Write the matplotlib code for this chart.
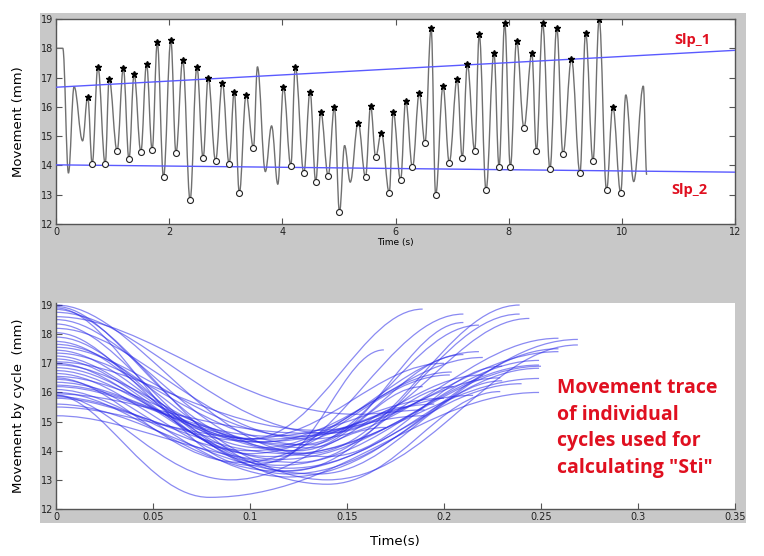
import matplotlib
matplotlib.use("Agg")
import matplotlib.pyplot as plt
from matplotlib.path import Path
from matplotlib.patches import PathPatch, Rectangle

# ---------------- data: top panel (extrema of the movement trace) ----------------
start_t = [0.0, 0.0, 0.12]
start_v = [14.1, 18.0, 18.0]

ext_t = [0.12, 0.22, 0.32, 0.47, 0.56, 0.64, 0.74, 0.87, 0.94, 1.08, 1.19, 1.29, 1.38, 1.50,
         1.60, 1.70, 1.79, 1.90, 2.03, 2.12, 2.24, 2.37, 2.49, 2.60, 2.69, 2.82, 2.94, 3.06,
         3.15, 3.24, 3.36, 3.49, 3.56, 3.70, 3.81, 3.92, 4.02, 4.15, 4.23, 4.38, 4.49, 4.59,
         4.68, 4.81, 4.92, 5.01, 5.10, 5.20, 5.34, 5.47, 5.56, 5.65, 5.75, 5.89, 5.96, 6.09,
         6.18, 6.30, 6.42, 6.52, 6.63, 6.71, 6.84, 6.95, 7.09, 7.18, 7.27, 7.40, 7.48, 7.60,
         7.74, 7.83, 7.93, 8.03, 8.14, 8.27, 8.41, 8.49, 8.60, 8.73, 8.85, 8.96, 9.11, 9.26,
         9.36, 9.49, 9.60, 9.73, 9.84, 9.98, 10.07, 10.21, 10.38, 10.44]
ext_v = [18.0, 13.74, 16.69, 14.84, 16.35, 14.05, 17.37, 14.05, 16.95, 14.5, 17.32, 14.21, 17.12, 14.47,
         17.46, 14.53, 18.2, 13.6, 18.28, 14.42, 17.6, 12.82, 17.37, 14.25, 17.0, 14.16, 16.83, 14.05,
         16.52, 13.05, 16.41, 14.61, 17.37, 13.79, 15.35, 13.36, 16.67, 13.99, 17.37, 13.75, 16.52, 13.45,
         15.82, 13.65, 15.99, 12.4, 14.68, 13.43, 15.46, 13.6, 16.03, 14.3, 15.12, 13.07, 15.82, 13.5,
         16.21, 13.93, 16.46, 14.76, 18.68, 12.99, 16.71, 14.1, 16.95, 14.25, 17.46, 14.5, 18.48, 13.16,
         17.85, 13.96, 18.85, 13.94, 18.26, 15.29, 17.83, 14.49, 18.85, 13.88, 18.7, 14.39, 17.63, 13.75,
         18.53, 14.16, 18.99, 13.16, 16.01, 13.07, 16.41, 13.45, 16.71, 13.68]
ext_mark = ['', '', '', '', 'p', 't', 'p', 't', 'p', 't', 'p', 't', 'p', 't',
            'p', 't', 'p', 't', 'p', 't', 'p', 't', 'p', 't', 'p', 't', 'p', 't',
            'p', 't', 'p', 't', '', '', '', '', 'p', 't', 'p', 't', 'p', 't',
            'p', 't', 'p', 't', '', '', 'p', 't', 'p', 't', 'p', 't', 'p', 't',
            'p', 't', 'p', 't', 'p', 't', 'p', 't', 'p', 't', 'p', 't', 'p', 't',
            'p', 't', 'p', 't', 'p', 't', 'p', 't', 'p', 't', 'p', 't', 'p', 't',
            'p', 't', 'p', 't', 'p', 't', '', '', '', '']

slp1_t = [0.0, 12.0]
slp1_v = [16.67, 17.93]
slp2_t = [0.0, 12.0]
slp2_v = [14.02, 13.77]

# ---------------- data: bottom panel (individual cycles) ----------------
cyc_start = [19.0, 18.95, 18.9, 18.85, 18.75, 18.6, 18.5, 18.35, 18.2, 18.05, 17.9, 17.75, 17.65, 17.55,
             17.45, 17.35, 17.25, 17.15, 17.05, 17.0, 16.95, 16.85, 16.75, 16.65, 16.55, 16.5, 16.45,
             16.35, 16.25, 16.2, 16.1, 16.0, 15.95, 15.9, 15.85, 15.8, 15.6, 15.5, 15.2, 15.9]
cyc_tmin = [0.13, 0.10, 0.10, 0.12, 0.14, 0.155, 0.12, 0.11, 0.13, 0.10, 0.12, 0.105, 0.14, 0.125,
            0.115, 0.13, 0.10, 0.12, 0.135, 0.11, 0.125, 0.14, 0.105, 0.115, 0.13, 0.095, 0.12,
            0.11, 0.14, 0.125, 0.10, 0.115, 0.13, 0.09, 0.12, 0.105, 0.135, 0.11, 0.125, 0.079]
cyc_min = [13.9, 14.4, 13.5, 13.3, 14.6, 15.25, 14.0, 13.6, 14.4, 13.9, 13.2, 14.1, 13.0, 14.5,
           13.7, 14.2, 14.4, 13.4, 14.7, 13.8, 14.0, 12.85, 14.3, 13.5, 14.1, 13.6, 13.1,
           14.5, 13.8, 14.2, 14.0, 13.3, 14.6, 13.0, 13.9, 14.3, 13.2, 14.4, 13.6, 12.4]
cyc_tend = [0.239, 0.189, 0.21, 0.239, 0.244, 0.19, 0.218, 0.169, 0.259, 0.218, 0.269, 0.204, 0.269, 0.259,
            0.249, 0.21, 0.20, 0.249, 0.229, 0.249, 0.189, 0.229, 0.22, 0.249, 0.18, 0.203, 0.259,
            0.20, 0.23, 0.21, 0.195, 0.24, 0.22, 0.17, 0.25, 0.19, 0.23, 0.215, 0.205, 0.249]
cyc_end = [19.0, 18.86, 18.69, 18.69, 18.54, 15.4, 18.31, 17.46, 17.86, 17.4, 17.82, 16.7, 17.63, 17.4,
           16.94, 18.4, 17.0, 16.83, 16.5, 16.48, 16.2, 16.03, 17.2, 17.1, 15.5, 16.6, 17.5,
           15.8, 16.9, 17.3, 15.6, 16.3, 16.6, 14.8, 16.9, 15.2, 16.4, 15.9, 16.2, 16.0]

top_xticks = [0, 2, 4, 6, 8, 10, 12]
yticks = [12, 13, 14, 15, 16, 17, 18, 19]
bot_xticks = [0, 0.05, 0.1, 0.15, 0.2, 0.25, 0.3, 0.35]
bot_xticklabels = ['0', '0.05', '0.1', '0.15', '0.2', '0.25', '0.3', '0.35']

# ---------------- helpers ----------------
def smooth_verts(ts, vs, ks):
    verts, codes = [], []
    for i in range(len(ts) - 1):
        dt = ts[i + 1] - ts[i]
        k0, k1 = ks[i]
        verts += [(ts[i] + k0 * dt, vs[i]), (ts[i + 1] - k1 * dt, vs[i + 1]), (ts[i + 1], vs[i + 1])]
        codes += [Path.CURVE4] * 3
    return verts, codes

W, H = 764, 556
fig = plt.figure(figsize=(W / 100, H / 100), dpi=100)
fig.patch.set_facecolor('white')
bg = Rectangle((40 / W, 1 - 523 / H), (746 - 40) / W, (523 - 13) / H,
               transform=fig.transFigure, facecolor='#c8c8c8', edgecolor='none', zorder=-10)
fig.patches.append(bg)

spine_col = '#555555'

# ---------------- top panel ----------------
ax1 = fig.add_axes([56 / W, 1 - 224 / H, (735 - 56) / W, (224 - 19) / H])
ax1.set_zorder(1)
ax1.set_facecolor('white')
ax1.set_xlim(0, 12)
ax1.set_ylim(12, 19)

verts = [(start_t[0], start_v[0]), (start_t[1], start_v[1]), (start_t[2], start_v[2])]
codes = [Path.MOVETO, Path.LINETO, Path.LINETO]
v2, c2 = smooth_verts(ext_t, ext_v, [(0.38, 0.38)] * (len(ext_t) - 1))
verts += v2
codes += c2
ax1.add_patch(PathPatch(Path(verts, codes), fill=False, edgecolor='#707070', lw=1.0, zorder=2))

ax1.plot(slp1_t, slp1_v, color='#5a5aff', lw=1.0, zorder=3)
ax1.plot(slp2_t, slp2_v, color='#5a5aff', lw=1.0, zorder=3)

pk_t = [t for t, m in zip(ext_t, ext_mark) if m == 'p']
pk_v = [v for v, m in zip(ext_v, ext_mark) if m == 'p']
tr_t = [t for t, m in zip(ext_t, ext_mark) if m == 't']
tr_v = [v for v, m in zip(ext_v, ext_mark) if m == 't']
ax1.plot(pk_t, pk_v, linestyle='none', marker='*', ms=5, color='black', zorder=4)
ax1.plot(tr_t, tr_v, linestyle='none', marker='o', ms=4.3, mfc='white', mec='#222222', mew=0.8, zorder=4)

ax1.set_xticks(top_xticks)
ax1.set_yticks(yticks)
ax1.tick_params(direction='in', length=4, width=0.8, color=spine_col, top=True, right=True,
                labelsize=7, labelcolor='#222222', pad=2)
for s in ax1.spines.values():
    s.set_color(spine_col)
    s.set_linewidth(1.0)
ax1.set_xlabel('Time (s)', fontsize=6.5, labelpad=1)
ax1.set_ylabel('Movement (mm)', fontsize=9.5)
ax1.yaxis.set_label_coords(-0.045, 0.5)

ax1.text(10.93, 18.28, 'Slp_1', color='#e01020', fontsize=10.5, fontweight='bold',
         family='Open Sans', ha='left', va='center', zorder=5)
ax1.text(10.88, 13.16, 'Slp_2', color='#e01020', fontsize=10.5, fontweight='bold',
         family='Open Sans', ha='left', va='center', zorder=5)

# ---------------- bottom panel ----------------
ax2 = fig.add_axes([56 / W, 1 - 509 / H, (735 - 56) / W, (509 - 303) / H])
ax2.set_zorder(1)
ax2.set_facecolor('white')
ax2.set_xlim(0, 0.35)
ax2.set_ylim(12, 19.07)

for s0, tm, m, te, e in zip(cyc_start, cyc_tmin, cyc_min, cyc_tend, cyc_end):
    vv, cc = smooth_verts([0.0, tm, te], [s0, m, e], [(0.3, 0.4), (0.4, 0.35)])
    path = Path([(0.0, s0)] + vv, [Path.MOVETO] + cc)
    ax2.add_patch(PathPatch(path, fill=False, edgecolor='#2a2ae8', alpha=0.55, lw=0.9, zorder=2))

ax2.set_xticks(bot_xticks)
ax2.set_xticklabels(bot_xticklabels)
ax2.set_yticks(yticks)
ax2.tick_params(direction='in', length=4, width=0.8, color=spine_col,
                labelsize=7, labelcolor='#222222', pad=2)
ax2.spines['top'].set_visible(False)
ax2.spines['right'].set_visible(False)
for s in ['left', 'bottom']:
    ax2.spines[s].set_color(spine_col)
    ax2.spines[s].set_linewidth(1.0)
ax2.set_ylabel('Movement by cycle  (mm)', fontsize=9.5)
ax2.yaxis.set_label_coords(-0.045, 0.5)
fig.text(395 / W, 1 - 541 / H, 'Time(s)', fontsize=9.5, ha='center', va='center')

ax2.text(0.2584, 16.5, 'Movement trace\nof individual\ncycles used for\ncalculating "Sti"',
         color='#e01020', fontsize=14, fontweight='bold', family='Open Sans',
         ha='left', va='top', linespacing=1.45, zorder=5)

fig.savefig('out.png', dpi=100, facecolor='white')
